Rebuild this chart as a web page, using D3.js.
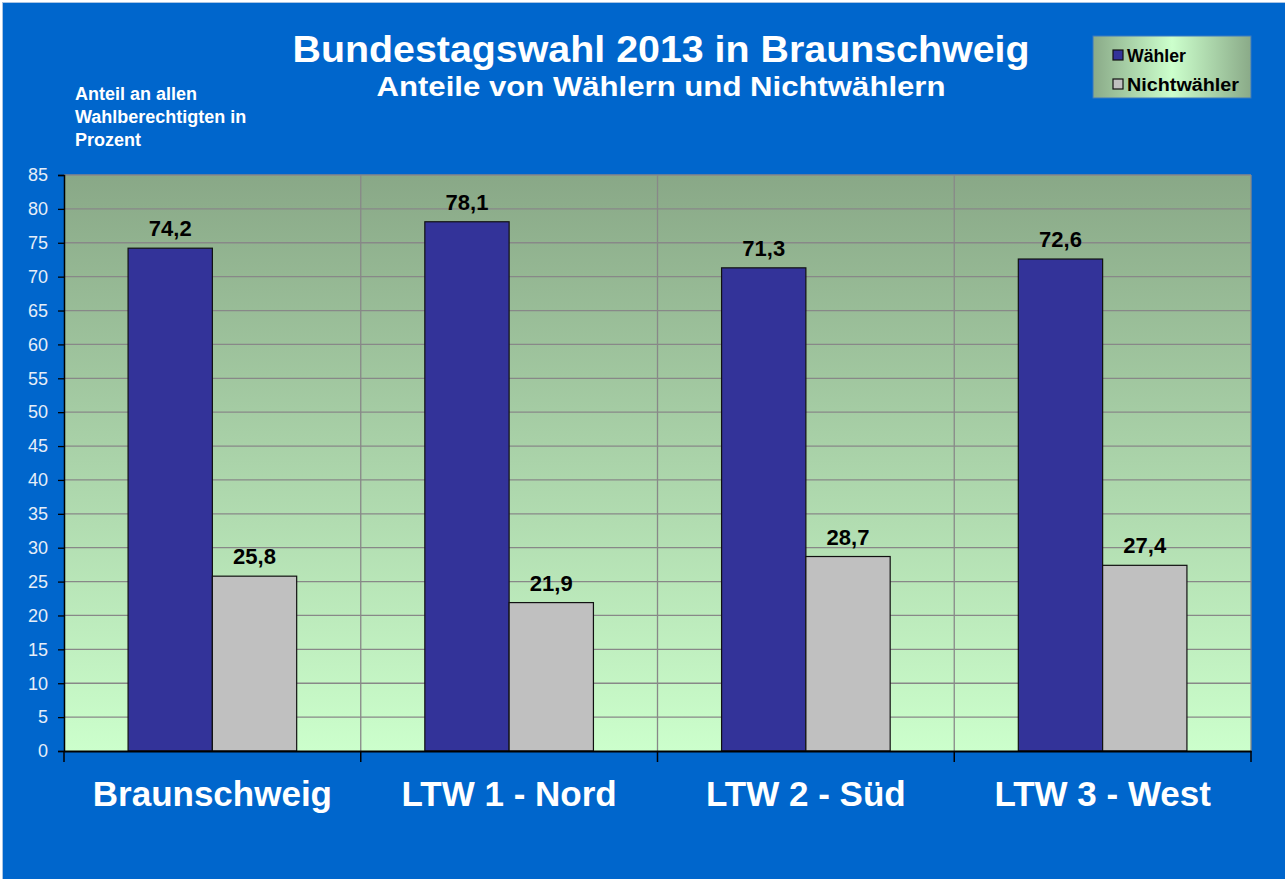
<!DOCTYPE html>
<html>
<head>
<meta charset="utf-8">
<script src="https://cdn.jsdelivr.net/npm/d3@7"></script>
<style>
 body { margin: 0; background: #fff; }
 svg { display: block; font-family: Arial, "Liberation Sans", sans-serif; }
</style>
</head>
<body>
<svg id="chart"></svg>
<script>
// data
const categories = ["Braunschweig", "LTW 1 - Nord", "LTW 2 - Süd", "LTW 3 - West"]
const seriesNames = ["Wähler", "Nichtwähler"]
const waehler = [74.2, 78.1, 71.3, 72.6]
const nichtwaehler = [25.8, 21.9, 28.7, 27.4]
const yTicks = d3.range(0, 90, 5)

const width = 1285, height = 879
const margin = {left: 64, right: 34, top: 175, bottom: 128}
const colors = ["#333399", "#C0C0C0"]

const svg = d3.select("#chart").attr("width", width).attr("height", height)

// outer background
svg.append("rect")
     .attr("x", 2.5).attr("y", 2.5)
     .attr("width", width - 2).attr("height", height - 2)
     .attr("fill", "#0066CC")
     .attr("stroke", "#a9c4e4").attr("stroke-width", 1)

const defs = svg.append("defs")
const plotGrad = defs.append("linearGradient").attr("id", "plotGrad")
     .attr("x1", 0).attr("y1", 0).attr("x2", 0).attr("y2", 1)
plotGrad.append("stop").attr("offset", "0%").attr("stop-color", "#89A887")
plotGrad.append("stop").attr("offset", "100%").attr("stop-color", "#CCFFCC")

const legGrad = defs.append("linearGradient").attr("id", "legGrad")
     .attr("x1", 0).attr("y1", 0).attr("x2", 1).attr("y2", 0)
legGrad.append("stop").attr("offset", "0%").attr("stop-color", "#8AAA88")
legGrad.append("stop").attr("offset", "50%").attr("stop-color", "#CCFFCC")
legGrad.append("stop").attr("offset", "100%").attr("stop-color", "#8AAA88")

const x0 = margin.left, x1 = width - margin.right
const y0 = margin.top, y1 = height - margin.bottom

const x = d3.scaleBand().domain(categories).range([x0, x1])
const xs = d3.scaleBand().domain(seriesNames)
     .range([0, x.bandwidth()]).paddingOuter(0.76).paddingInner(0)
const y = d3.scaleLinear().domain([0, 85]).range([y1, y0])

// plot area
svg.append("rect")
     .attr("x", x0).attr("y", y0)
     .attr("width", x1 - x0).attr("height", y1 - y0)
     .attr("fill", "url(#plotGrad)")

// horizontal grid
svg.append("g").selectAll("line")
     .data(yTicks.filter(d => d > 0))
     .enter().append("line")
          .attr("x1", x0).attr("x2", x1)
          .attr("y1", d => y(d)).attr("y2", d => y(d))
          .attr("stroke", "#888").attr("stroke-width", 1.3)

// vertical separators
svg.append("g").selectAll("line")
     .data(categories.slice(1).concat(["end"]))
     .enter().append("line")
          .attr("x1", (d, i) => x0 + (i + 1) * x.bandwidth())
          .attr("x2", (d, i) => x0 + (i + 1) * x.bandwidth())
          .attr("y1", y0).attr("y2", y1)
          .attr("stroke", "#888").attr("stroke-width", 1.3)

// bars
const rows = categories.map((c, i) => ({cat: c, vals: [waehler[i], nichtwaehler[i]]}))
const groups = svg.append("g").selectAll("g")
     .data(rows)
     .enter().append("g")
          .attr("transform", d => `translate(${x(d.cat)},0)`)

groups.selectAll("rect")
     .data(d => d.vals.map((v, j) => ({name: seriesNames[j], v: v, j: j})))
     .enter().append("rect")
          .attr("x", d => xs(d.name))
          .attr("y", d => y(d.v))
          .attr("width", xs.bandwidth())
          .attr("height", d => y(0) - y(d.v))
          .attr("fill", d => colors[d.j])
          .attr("stroke", "#111").attr("stroke-width", 1.2)

groups.selectAll("text")
     .data(d => d.vals.map((v, j) => ({name: seriesNames[j], v: v})))
     .enter().append("text")
          .attr("x", d => xs(d.name) + xs.bandwidth() / 2)
          .attr("y", d => y(d.v) - 12)
          .attr("text-anchor", "middle")
          .attr("font-size", 22).attr("font-weight", "bold")
          .attr("fill", "#000")
          .text(d => d3.format(".1f")(d.v).replace(".", ","))

// y axis
const yAxis = svg.append("g")
     .attr("transform", `translate(${x0},0)`)
     .call(d3.axisLeft(y).tickValues(yTicks).tickSize(6).tickPadding(10))
yAxis.select(".domain").attr("stroke", "#000").attr("stroke-width", 1.5)
yAxis.selectAll(".tick line").attr("stroke", "#000").attr("stroke-width", 1.3)
yAxis.selectAll(".tick text")
     .attr("font-size", 18).attr("fill", "#E6EEF8")
     .attr("font-family", "Arial, 'Liberation Sans', sans-serif")

// x axis
const xAxis = svg.append("g")
     .attr("transform", `translate(0,${y1})`)
     .call(d3.axisBottom(x).tickSize(0).tickPadding(30))
xAxis.select(".domain").attr("stroke", "#000").attr("stroke-width", 2)
xAxis.selectAll(".tick text")
     .attr("font-size", 35).attr("font-weight", "bold").attr("fill", "#fff")
     .attr("font-family", "Arial, 'Liberation Sans', sans-serif")
svg.append("g").selectAll("line")
     .data(d3.range(categories.length + 1))
     .enter().append("line")
          .attr("x1", d => x0 + d * x.bandwidth())
          .attr("x2", d => x0 + d * x.bandwidth())
          .attr("y1", y1).attr("y2", y1 + 11)
          .attr("stroke", "#000").attr("stroke-width", 1.5)

// titles
svg.append("text")
     .attr("x", 661).attr("y", 62)
     .attr("text-anchor", "middle")
     .attr("font-size", 37).attr("font-weight", "bold").attr("fill", "#fff")
     .attr("textLength", 737).attr("lengthAdjust", "spacingAndGlyphs")
     .text("Bundestagswahl 2013 in Braunschweig")
svg.append("text")
     .attr("x", 661).attr("y", 96)
     .attr("text-anchor", "middle")
     .attr("font-size", 27).attr("font-weight", "bold").attr("fill", "#fff")
     .attr("textLength", 569).attr("lengthAdjust", "spacingAndGlyphs")
     .text("Anteile von Wählern und Nichtwählern")

const yTitle = ["Anteil an allen", "Wahlberechtigten in", "Prozent"]
svg.append("g").selectAll("text")
     .data(yTitle)
     .enter().append("text")
          .attr("x", 75).attr("y", (d, i) => 100 + i * 23)
          .attr("font-size", 18).attr("font-weight", "bold").attr("fill", "#fff")
          .text(d => d)

// legend
const leg = svg.append("g").attr("transform", "translate(1093,36)")
leg.append("rect")
     .attr("width", 158).attr("height", 62)
     .attr("fill", "url(#legGrad)")
     .attr("stroke", "#3a78c0").attr("stroke-width", 1)
seriesNames.forEach((s, i) => {
     leg.append("rect")
          .attr("x", 20).attr("y", 14 + i * 29)
          .attr("width", 10).attr("height", 10)
          .attr("fill", colors[i]).attr("stroke", "#111").attr("stroke-width", 1.2)
     leg.append("text")
          .attr("x", 34).attr("y", 26 + i * 29)
          .attr("font-size", 18).attr("font-weight", "bold").attr("fill", "#000")
          .attr("textLength", i === 0 ? 59 : 112).attr("lengthAdjust", "spacingAndGlyphs")
          .text(s)
})
</script>
</body>
</html>
